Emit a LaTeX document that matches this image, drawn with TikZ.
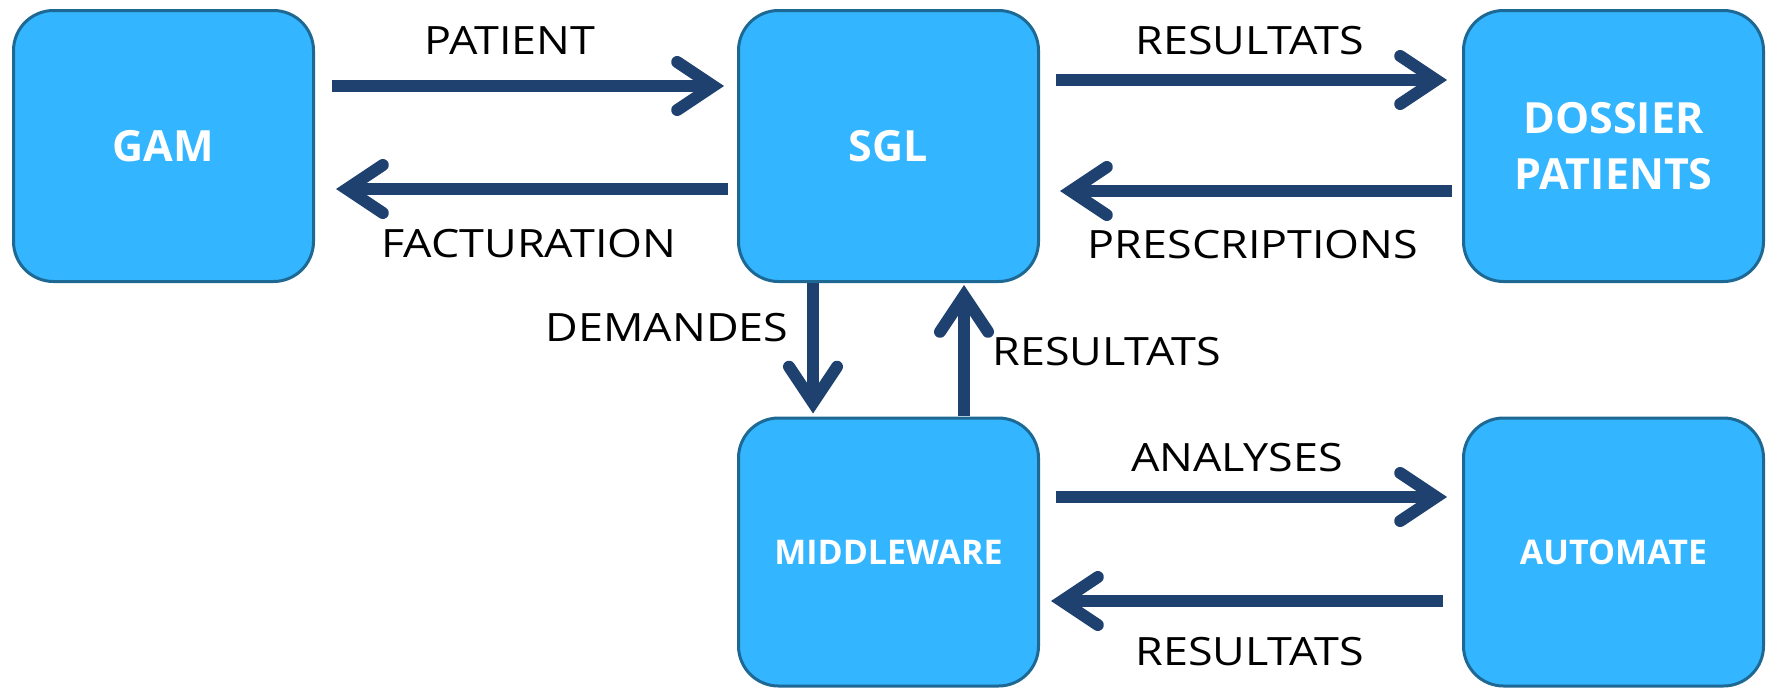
\documentclass[tikz,border=0pt]{standalone}
\usepackage{fontspec}
\setmainfont{Open Sans}
\newfontfamily\lblfont[FakeStretch=1.15]{Open Sans}
\usetikzlibrary{arrows.meta}
\definecolor{boxfill}{RGB}{51,181,255}
\definecolor{boxline}{RGB}{30,104,148}
\definecolor{arrowc}{RGB}{31,65,112}
\begin{document}
\begin{tikzpicture}[x=1pt,y=-1pt,
  sysbox/.style={draw=boxline, line width=3pt, fill=boxfill, rounded corners=40pt,
    minimum width=300pt, inner sep=0pt, text=white, align=center},
  bigtxt/.style={font=\bfseries\fontsize{43}{56}\selectfont},
  smalltxt/.style={font=\bfseries\fontsize{34}{40}\selectfont},
  lbl/.style={inner sep=0pt, font=\lblfont\fontsize{39}{47}\selectfont},
  conn/.style={draw=arrowc, line width=12pt, line cap=butt,
    -{Straight Barb[length=36pt, width=48pt, line cap=round, line join=miter]}}]
\useasboundingbox (0,0) rectangle (1772,688);
\fill[white] (0,0) rectangle (1772,688);
% boxes
\node[sysbox, bigtxt, minimum height=271pt] (gam) at (163.5,146) {GAM};
\node[sysbox, bigtxt, minimum height=271pt] (sgl) at (888.5,146) {SGL};
\node[sysbox, bigtxt, minimum height=271pt] (dp) at (1613.5,146) {DOSSIER\\PATIENTS};
\node[sysbox, smalltxt, minimum height=268pt] (mw) at (888.5,552) {MIDDLEWARE};
\node[sysbox, smalltxt, minimum height=268pt] (aut) at (1613.5,552) {AUTOMATE};
% connectors
\draw[conn] ([xshift=17pt,yshift=60pt]gam.east) -- ([xshift=-13pt,yshift=60pt]sgl.west);
\draw[conn] ([xshift=-9pt,yshift=-43pt]sgl.west) -- ([xshift=21pt,yshift=-43pt]gam.east);
\draw[conn] ([xshift=16pt,yshift=66pt]sgl.east) -- ([xshift=-15pt,yshift=66pt]dp.west);
\draw[conn] ([xshift=-10pt,yshift=-45pt]dp.west) -- ([xshift=20pt,yshift=-45pt]sgl.east);
\draw[conn] ([xshift=-75.5pt,yshift=0pt]sgl.south) -- ([xshift=-75.5pt,yshift=3pt]mw.north);
\draw[conn] ([xshift=75.5pt,yshift=1pt]mw.north) -- ([xshift=75.5pt,yshift=-2pt]sgl.south);
\draw[conn] ([xshift=16pt,yshift=55pt]mw.east) -- ([xshift=-15pt,yshift=55pt]aut.west);
\draw[conn] ([xshift=-19pt,yshift=-49pt]aut.west) -- ([xshift=11pt,yshift=-49pt]mw.east);
% labels
\node[lbl] (lpat) at (510,41) {PATIENT};
\node[lbl] (lfac) at (529,244) {FACTURATION};
\node[lbl] (lres1) at (1250,41) {RESULTATS};
\node[lbl] (lpre) at (1253,245) {PRESCRIPTIONS};
\node[lbl] (ldem) at (667,328) {DEMANDES};
\node[lbl] (lres2) at (1107,352) {RESULTATS};
\node[lbl] (lana) at (1237,458) {ANALYSES};
\node[lbl] (lres3) at (1250,652) {RESULTATS};
\end{tikzpicture}
\end{document}
